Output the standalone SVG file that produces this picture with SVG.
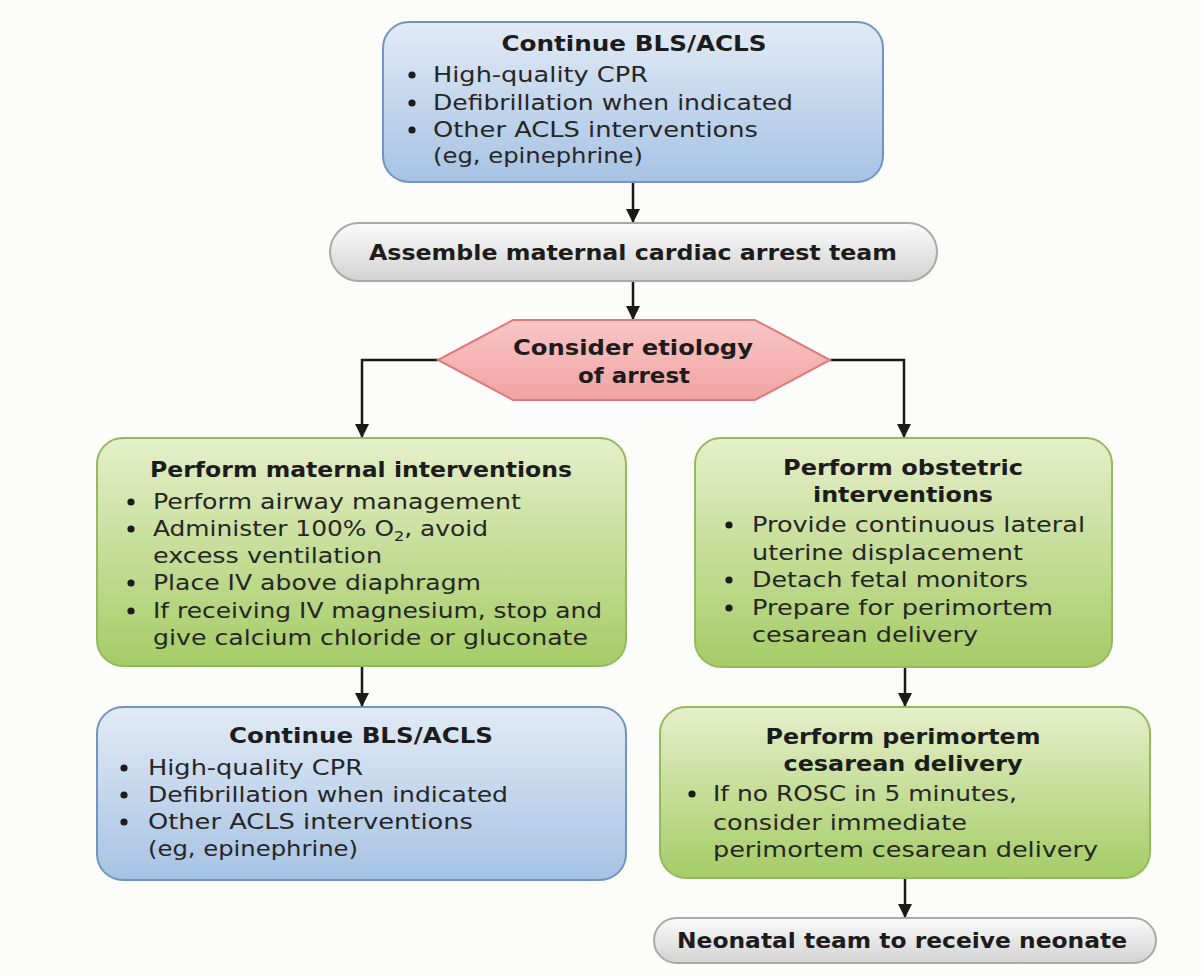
<svg xmlns="http://www.w3.org/2000/svg" width="1201" height="976" viewBox="0 0 1201 976">
<defs>
<linearGradient id="gBlue" x1="0" y1="0" x2="0" y2="1"><stop offset="0" stop-color="#e2ebf6"/><stop offset="1" stop-color="#a6c2e3"/></linearGradient>
<linearGradient id="gGreen" x1="0" y1="0" x2="0" y2="1"><stop offset="0" stop-color="#e6efca"/><stop offset="1" stop-color="#a5cc66"/></linearGradient>
<linearGradient id="gGrey" x1="0" y1="0" x2="0" y2="1"><stop offset="0" stop-color="#fbfbfb"/><stop offset="1" stop-color="#d2d2d2"/></linearGradient>
<linearGradient id="gRed" x1="0" y1="0" x2="0" y2="1"><stop offset="0" stop-color="#f8c6c6"/><stop offset="1" stop-color="#f2a3a3"/></linearGradient>
<marker id="arr" markerUnits="userSpaceOnUse" markerWidth="14" markerHeight="18" refX="14" refY="7" orient="auto">
<path d="M0,0 L14,7 L0,14 Z" fill="#1a1a1a"/>
</marker>
</defs>
<style>
.blue{fill:url(#gBlue);stroke:#7195c2;stroke-width:2}
.green{fill:url(#gGreen);stroke:#93bb5e;stroke-width:2}
.grey{fill:url(#gGrey);stroke:#a9a9a9;stroke-width:2}
.red{fill:url(#gRed);stroke:#e07a7a;stroke-width:2}
text{font-family:"DejaVu Sans","Liberation Sans",sans-serif;font-size:21.5px;fill:#262626}
.t{font-weight:bold;fill:#1c1c1c;text-anchor:middle}
.b{fill:#1c1c1c}
.c{fill:none;stroke:#1a1a1a;stroke-width:2.5}
</style>
<rect width="1201" height="976" fill="#fcfcfb"/>

<g id="connectors">
<path class="c" d="M633,182 V223" marker-end="url(#arr)"/>
<path class="c" d="M633,281 V320" marker-end="url(#arr)"/>
<path class="c" d="M438,360 H362 V438" marker-end="url(#arr)"/>
<path class="c" d="M830,360 H904 V438" marker-end="url(#arr)"/>
<path class="c" d="M362,666 V707" marker-end="url(#arr)"/>
<path class="c" d="M905,667 V707" marker-end="url(#arr)"/>
<path class="c" d="M905,878 V918" marker-end="url(#arr)"/>
</g>

<g id="bls-top">
<rect class="blue" x="383" y="22" width="500" height="160" rx="26"/>
<text class="t" x="634" y="51" textLength="265" lengthAdjust="spacingAndGlyphs">Continue BLS/ACLS</text>
<circle class="b" cx="412" cy="75" r="3.6"/>
<text x="433" y="82" textLength="215" lengthAdjust="spacingAndGlyphs">High-quality CPR</text>
<circle class="b" cx="412" cy="103" r="3.6"/>
<text x="433" y="110" textLength="360" lengthAdjust="spacingAndGlyphs">Defibrillation when indicated</text>
<circle class="b" cx="412" cy="130" r="3.6"/>
<text x="433" y="137" textLength="325" lengthAdjust="spacingAndGlyphs">Other ACLS interventions</text>
<text x="433" y="163" textLength="210" lengthAdjust="spacingAndGlyphs">(eg, epinephrine)</text>
</g>

<g id="assemble">
<rect class="grey" x="330" y="223" width="607" height="58" rx="29"/>
<text class="t" x="633" y="260" textLength="528" lengthAdjust="spacingAndGlyphs">Assemble maternal cardiac arrest team</text>
</g>

<g id="etiology">
<polygon class="red" points="438,360 513,320 755,320 830,360 755,400 513,400"/>
<text class="t" x="633" y="355" textLength="240" lengthAdjust="spacingAndGlyphs">Consider etiology</text>
<text class="t" x="634" y="383" textLength="112" lengthAdjust="spacingAndGlyphs">of arrest</text>
</g>

<g id="maternal">
<rect class="green" x="97" y="438" width="529" height="228" rx="26"/>
<text class="t" x="361" y="477" textLength="422" lengthAdjust="spacingAndGlyphs">Perform maternal interventions</text>
<circle class="b" cx="131" cy="502" r="3.6"/>
<text x="153" y="509" textLength="368" lengthAdjust="spacingAndGlyphs">Perform airway management</text>
<circle class="b" cx="131" cy="529" r="3.6"/>
<text x="153" y="536" textLength="335" lengthAdjust="spacingAndGlyphs">Administer 100% O<tspan font-size="14" dy="5">2</tspan><tspan dy="-5">, avoid</tspan></text>
<text x="153" y="563" textLength="229" lengthAdjust="spacingAndGlyphs">excess ventilation</text>
<circle class="b" cx="131" cy="583" r="3.6"/>
<text x="153" y="590" textLength="328" lengthAdjust="spacingAndGlyphs">Place IV above diaphragm</text>
<circle class="b" cx="131" cy="611" r="3.6"/>
<text x="153" y="618" textLength="449" lengthAdjust="spacingAndGlyphs">If receiving IV magnesium, stop and</text>
<text x="153" y="645" textLength="435" lengthAdjust="spacingAndGlyphs">give calcium chloride or gluconate</text>
</g>

<g id="obstetric">
<rect class="green" x="695" y="438" width="417" height="229" rx="26"/>
<text class="t" x="903" y="475" textLength="240" lengthAdjust="spacingAndGlyphs">Perform obstetric</text>
<text class="t" x="903" y="502" textLength="180" lengthAdjust="spacingAndGlyphs">interventions</text>
<circle class="b" cx="729" cy="525" r="3.6"/>
<text x="752" y="532" textLength="333" lengthAdjust="spacingAndGlyphs">Provide continuous lateral</text>
<text x="752" y="560" textLength="271" lengthAdjust="spacingAndGlyphs">uterine displacement</text>
<circle class="b" cx="729" cy="580" r="3.6"/>
<text x="752" y="587" textLength="276" lengthAdjust="spacingAndGlyphs">Detach fetal monitors</text>
<circle class="b" cx="729" cy="608" r="3.6"/>
<text x="752" y="615" textLength="301" lengthAdjust="spacingAndGlyphs">Prepare for perimortem</text>
<text x="752" y="642" textLength="226" lengthAdjust="spacingAndGlyphs">cesarean delivery</text>
</g>

<g id="bls-bottom">
<rect class="blue" x="97" y="707" width="529" height="173" rx="26"/>
<text class="t" x="361" y="743" textLength="264" lengthAdjust="spacingAndGlyphs">Continue BLS/ACLS</text>
<circle class="b" cx="124" cy="768" r="3.6"/>
<text x="148" y="775" textLength="215" lengthAdjust="spacingAndGlyphs">High-quality CPR</text>
<circle class="b" cx="124" cy="795" r="3.6"/>
<text x="148" y="802" textLength="360" lengthAdjust="spacingAndGlyphs">Defibrillation when indicated</text>
<circle class="b" cx="124" cy="822" r="3.6"/>
<text x="148" y="829" textLength="325" lengthAdjust="spacingAndGlyphs">Other ACLS interventions</text>
<text x="148" y="856" textLength="210" lengthAdjust="spacingAndGlyphs">(eg, epinephrine)</text>
</g>

<g id="perimortem">
<rect class="green" x="660" y="707" width="490" height="171" rx="26"/>
<text class="t" x="903" y="744" textLength="275" lengthAdjust="spacingAndGlyphs">Perform perimortem</text>
<text class="t" x="903" y="771" textLength="239" lengthAdjust="spacingAndGlyphs">cesarean delivery</text>
<circle class="b" cx="692" cy="794" r="3.6"/>
<text x="713" y="801" textLength="304" lengthAdjust="spacingAndGlyphs">If no ROSC in 5 minutes,</text>
<text x="713" y="830" textLength="254" lengthAdjust="spacingAndGlyphs">consider immediate</text>
<text x="713" y="857" textLength="385" lengthAdjust="spacingAndGlyphs">perimortem cesarean delivery</text>
</g>

<g id="neonatal">
<rect class="grey" x="654" y="918" width="502" height="45" rx="22.5"/>
<text class="t" x="902" y="948" textLength="450" lengthAdjust="spacingAndGlyphs">Neonatal team to receive neonate</text>
</g>
</svg>
